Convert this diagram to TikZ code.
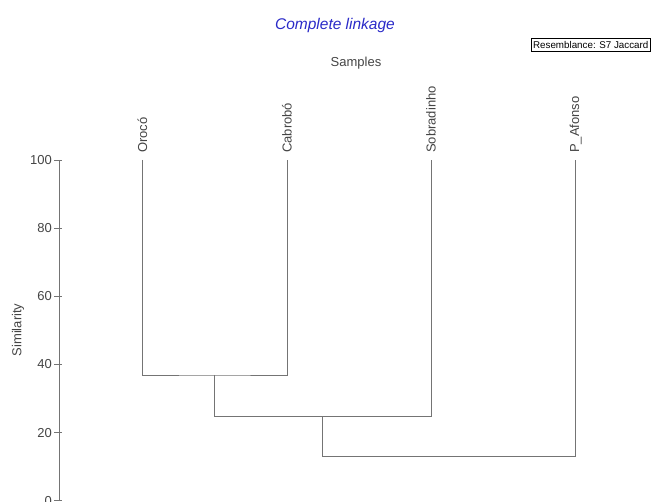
\documentclass[tikz,border=0pt]{standalone}
\usepackage{fontspec}
\setmainfont{Liberation Sans}
\definecolor{linegray}{HTML}{747474}
\definecolor{titleblue}{HTML}{2A2AC8}
\definecolor{textgray}{HTML}{444444}
\begin{document}
\begin{tikzpicture}[x=1pt,y=-1pt,
  branch/.style={draw=linegray,line width=0.9pt},
  axisline/.style={draw=linegray,line width=0.9pt},
  leaflabel/.style={rotate=90,anchor=west,inner sep=0pt,font=\fontsize{13}{15}\selectfont,text=textgray},
  ticklabel/.style={anchor=east,inner sep=0pt,font=\fontsize{13}{15}\selectfont,text=textgray}]
\useasboundingbox (0,0) rectangle (659,502);
\clip (0,0) rectangle (659,502);
% titles
\node[font=\itshape\fontsize{15.5}{18}\selectfont,text=titleblue] (title) at (335,25) {Complete linkage};
\node[font=\fontsize{13}{15}\selectfont,text=textgray] (samples) at (356,63) {Samples};
\node[draw=black,line width=0.6pt,anchor=west,inner xsep=1.8pt,inner ysep=2.6pt,font=\fontsize{9.8}{11}\selectfont] (res) at (531,45) {Resemblance: S7 Jaccard};
% axis
\coordinate (atop) at (59,160);
\coordinate (abot) at (59,501);
\draw[axisline] (atop) -- (abot);
\foreach \v/\yy in {100/160,80/228.2,60/296.4,40/364.5,20/432.7,0/500.9}{
  \coordinate (t\v) at (59,\yy);
  \draw[axisline] ([xshift=-5pt]t\v) -- ([xshift=3pt]t\v);
  \node[ticklabel] (l\v) at ([xshift=-7pt]t\v) {\v};
}
\node[rotate=90,font=\fontsize{13}{15}\selectfont,text=textgray] (ylab) at (18,330) {Similarity};
% leaves
\coordinate (oroco) at (142.3,160);
\coordinate (cabrobo) at (287,160);
\coordinate (sobradinho) at (431,160);
\coordinate (pafonso) at (575.7,160);
\node[leaflabel] (loroco) at (142.3,153) {Orocó};
\node[leaflabel] (lcabrobo) at (287,153) {Cabrobó};
\node[leaflabel] (lsobradinho) at (431,153) {Sobradinho};
\node[leaflabel] (lpafonso) at (575.7,153) {P\_Afonso};
% merges
\coordinate (m1) at (214.6,375);
\coordinate (m2) at (322.8,416.7);
\coordinate (m3) at (449.2,456.7);
\draw[branch] (oroco) |- (m1) -| (cabrobo);
\draw[branch] (m1) |- (m2) -| (sobradinho);
\draw[branch] (m2) |- (m3) -| (pafonso);
\end{tikzpicture}
\end{document}
